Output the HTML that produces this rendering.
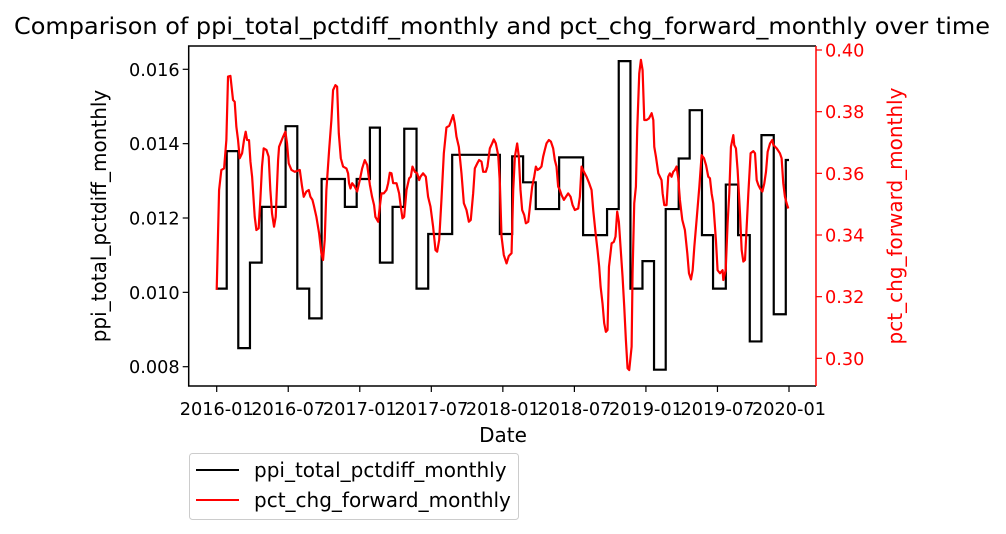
<!DOCTYPE html>
<html><head><meta charset="utf-8"><style>
body{margin:0;background:#fff;}
svg{display:block;font-family:"DejaVu Sans","Liberation Sans",sans-serif;}
</style></head><body>
<svg id="chart" width="1006" height="534" viewBox="0 0 1006 534">
<text x="502" y="34" text-anchor="middle" font-size="23.5" textLength="976" lengthAdjust="spacingAndGlyphs">Comparison of ppi_total_pctdiff_monthly and pct_chg_forward_monthly over time</text>
<g id="plot"></g>
<text x="503" y="442" text-anchor="middle" font-size="20">Date</text>
<text transform="translate(106,216) rotate(-90)" text-anchor="middle" font-size="20">ppi_total_pctdiff_monthly</text>
<text transform="translate(902,216) rotate(-90)" text-anchor="middle" font-size="20" fill="#ff0000">pct_chg_forward_monthly</text>
<g>
<rect x="189.5" y="453.5" width="329" height="66" rx="3" fill="#fff" stroke="#ccc"/>
<line x1="196" y1="470" x2="239" y2="470" stroke="#000" stroke-width="2"/>
<text x="254" y="477" font-size="20">ppi_total_pctdiff_monthly</text>
<line x1="196" y1="500" x2="239" y2="500" stroke="#ff0000" stroke-width="2"/>
<text x="254" y="507" font-size="20">pct_chg_forward_monthly</text>
</g>
</svg>
<script>
const xTickLabels = ["2016-01","2016-07","2017-01","2017-07","2018-01","2018-07","2019-01","2019-07","2020-01"];
const xTickMonths = [0,6,12,18,24,30,36,42,48];
const leftTicks = [0.008,0.010,0.012,0.014,0.016];
const rightTicks = [0.30,0.32,0.34,0.36,0.38,0.40];
const ppiMonths = [0,0.84,1.81,2.79,3.77,5.78,6.76,7.76,8.80,10.75,11.74,12.85,13.69,14.75,15.73,16.76,17.74,19.75,23.75,24.78,25.70,26.76,28.72,30.73,32.74,33.72,34.70,35.71,36.68,37.66,38.75,39.67,40.70,41.63,42.70,43.73,44.71,45.69,46.72,47.73];
const ppiValues = [0.0101,0.0138,0.0085,0.0108,0.0123,0.01447,0.0101,0.0093,0.01305,0.0123,0.01305,0.01443,0.0108,0.0123,0.0144,0.0101,0.01157,0.0137,0.01157,0.01366,0.01296,0.01224,0.01363,0.01154,0.01224,0.01622,0.0101,0.01084,0.00792,0.01224,0.0136,0.0149,0.01154,0.0101,0.0129,0.01154,0.00868,0.01423,0.00941,0.01356];
const ppiEnd = 48;
const pctMonths = [0,0.20,0.39,0.62,0.81,0.95,1.15,1.37,1.51,1.65,
1.79,1.93,2.13,2.29,2.43,2.55,2.71,2.83,2.97,3.19,
3.33,3.52,3.66,3.80,3.94,4.17,4.36,4.50,4.64,4.81,
4.95,5.15,5.23,5.57,5.76,5.90,6.04,6.27,6.55,6.97,
7.16,7.30,7.52,7.72,7.86,8.03,8.14,8.36,8.59,8.78,
8.92,9.06,9.20,9.43,9.62,9.76,9.96,10.10,10.24,10.41,
10.60,10.88,11.02,11.10,11.22,11.36,11.58,11.78,12.00,12.20,
12.42,12.62,12.85,13.03,13.20,13.31,13.54,13.68,13.82,14.01,
14.24,14.38,14.52,14.66,14.80,15.08,15.30,15.44,15.58,15.72,
15.92,16.14,16.28,16.42,16.62,16.81,16.98,17.09,17.31,17.54,
17.73,17.93,18.15,18.35,18.49,18.66,18.85,19.05,19.27,19.50,
19.64,19.83,19.97,20.11,20.31,20.53,20.73,20.95,21.15,21.31,
21.51,21.65,21.85,22.01,22.21,22.35,22.57,22.71,22.91,23.10,
23.24,23.41,23.61,
23.75,23.89,24.08,24.31,24.50,24.73,24.87,25.01,25.20,25.34,
25.48,25.62,25.79,25.93,26.13,26.27,26.46,26.63,26.77,26.91,
27.10,27.24,27.38,27.52,27.66,27.86,28.03,28.22,28.36,28.50,
28.64,28.78,28.92,29.12,29.29,29.48,29.68,29.85,30.04,30.32,
30.46,30.60,30.80,31.02,31.24,31.44,31.58,31.78,31.94,32.08,
32.20,32.36,32.50,32.64,32.78,32.90,33.03,33.12,33.31,33.45,
33.59,33.73,33.87,34.04,34.18,34.32,34.46,34.60,34.80,34.88,
35.02,35.16,35.27,35.44,35.58,35.72,35.86,36.06,36.25,36.48,
36.62,36.70,36.84,37.04,37.31,37.40,37.54,37.73,37.87,38.01,
38.15,38.29,38.43,38.57,38.71,38.85,39.05,39.27,39.47,39.61,
39.78,39.92,40.06,40.25,40.48,40.67,40.87,41.04,41.23,41.37,
41.51,41.65,41.87,42.01,42.21,42.43,42.49,42.69,42.85,42.99,
43.13,43.33,43.41,43.55,43.69,43.89,44.03,44.17,44.31,44.45,
44.59,44.78,45.01,45.15,45.29,45.43,45.57,45.77,45.93,46.07,
46.21,46.41,46.60,46.69,46.97,47.24,47.38,47.52,47.66,47.80,
47.94];
const pctValues = [.3222,.3546,.3611,.3616,.3708,.3914,.3916,.3838,.3832,.3751,
.3708,.3649,.3665,.3708,.3735,.3708,.3708,.3638,.3589,.3459,
.3416,.3422,.3514,.3622,.3681,.3676,.3654,.3546,.3470,.3427,
.3459,.3643,.3686,.3719,.3735,.3697,.3632,.3611,.3605,.3611,
.3557,.3524,.3541,.3546,.3524,.3514,.3497,.3459,.3405,.3341,
.3319,.3384,.3546,.3676,.3773,.3870,.3886,.3881,.3730,.3649,
.3622,.3616,.3600,.3568,.3551,.3568,.3557,.3541,.3578,.3616,
.3643,.3627,.3562,.3524,.3497,.3459,.3443,.3492,.3535,.3535,
.3546,.3568,.3602,.3600,.3568,.3568,.3535,.3492,.3454,.3459,
.3546,.3584,.3589,.3622,.3605,.3600,.3578,.3589,.3600,.3589,
.3524,.3492,.3427,.3351,.3346,.3384,.3514,.3665,.3749,.3754,
.3768,.3789,.3762,.3719,.3686,.3600,.3503,.3481,.3443,.3449,
.3535,.3616,.3632,.3643,.3638,.3605,.3605,.3622,.3681,.3697,
.3710,.3697,.3659,
.3568,.3395,.3335,.3308,.3332,.3341,.3546,.3654,.3697,.3654,
.3546,.3481,.3465,.3438,.3443,.3492,.3557,.3589,.3622,.3611,
.3616,.3622,.3654,.3676,.3697,.3708,.3703,.3681,.3643,.3622,
.3557,.3546,.3530,.3514,.3524,.3535,.3524,.3497,.3481,.3486,
.3524,.3622,.3605,.3589,.3568,.3546,.3481,.3405,.3351,.3297,
.3232,.3178,.3114,.3086,.3092,.3297,.3341,.3373,.3378,.3395,
.3476,.3443,.3362,.3265,.3168,.3059,.2968,.2962,.3038,.3276,
.3503,.3557,.3741,.3924,.3968,.3935,.3773,.3773,.3778,.3795,
.3773,.3686,.3654,.3600,.3578,.3535,.3497,.3497,.3589,.3600,
.3589,.3605,.3611,.3622,.3584,.3514,.3449,.3416,.3341,.3276,
.3256,.3286,.3362,.3449,.3557,.3659,.3649,.3627,.3589,.3584,
.3535,.3503,.3384,.3286,.3276,.3286,.3254,.3286,.3438,.3535,
.3686,.3724,.3692,.3681,.3611,.3470,.3351,.3314,.3319,.3427,
.3535,.3665,.3672,.3665,.3578,.3562,.3551,.3541,.3568,.3605,
.3670,.3697,.3708,.3692,.3681,.3665,.3649,.3568,.3524,.3503,
.3486];

const NS = "http://www.w3.org/2000/svg";
const L = 188.7, R = 816, T = 46, B = 386;
function xS(m){ return 216.7 + m * (789 - 216.7) / 48; }
function yL(v){ return 69.3 + (0.016 - v) / 0.002 * 74.35; }
function yR(v){ return 50 + (0.40 - v) / 0.02 * 61.67; }
const plot = document.getElementById('plot');
function mk(tag, attrs, parent){
  const e = document.createElementNS(NS, tag);
  for (const k in attrs) e.setAttribute(k, attrs[k]);
  (parent || plot).appendChild(e);
  return e;
}
let d = "";
for (let i = 0; i < ppiValues.length; i++) {
  const x0 = xS(ppiMonths[i]);
  const x1 = xS(i + 1 < ppiMonths.length ? ppiMonths[i + 1] : ppiEnd);
  const y = yL(ppiValues[i]);
  d += (i === 0 ? "M" : "L") + x0.toFixed(2) + "," + y.toFixed(2) + "L" + x1.toFixed(2) + "," + y.toFixed(2);
}
const ppiPath = mk('path', {d: d, fill: 'none', stroke: '#000', 'stroke-width': 2.2});


let d2 = "";
for (let i = 0; i < pctValues.length; i++) {
  d2 += (i === 0 ? "M" : "L") + xS(pctMonths[i]).toFixed(2) + "," + yR(pctValues[i]).toFixed(2);
}
const pctPath = mk('path', {d: d2, fill: 'none', stroke: '#ff0000', 'stroke-width': 2.2, 'stroke-linejoin': 'round'});


const sp1 = mk('path', {d: `M${R},${T}L${L},${T}L${L},${B}L${R},${B}`, fill: 'none', stroke: '#000', 'stroke-width': 1.5});


const sp2 = mk('line', {x1: R, y1: T, x2: R, y2: B, stroke: '#ff0000', 'stroke-width': 1.5});


for (let i = 0; i < xTickMonths.length; i++) {
  const x = xS(xTickMonths[i]);
  const tk = mk('line', {x1: x, y1: B, x2: x, y2: B + 6, stroke: '#000', 'stroke-width': 1.2});
  
  
  const t = mk('text', {x: x, y: B + 29, 'text-anchor': 'middle', 'font-size': 17.7});
  t.textContent = xTickLabels[i];
  
  
}
for (const v of leftTicks) {
  const y = yL(v);
  const tk = mk('line', {x1: L - 6, y1: y, x2: L, y2: y, stroke: '#000', 'stroke-width': 1.2});
  
  
  const t = mk('text', {x: L - 9, y: y + 6.5, 'text-anchor': 'end', 'font-size': 17.7});
  t.textContent = v.toFixed(3);
  
  
}
for (const v of rightTicks) {
  const y = yR(v);
  const tk = mk('line', {x1: R, y1: y, x2: R + 6, y2: y, stroke: '#ff0000', 'stroke-width': 1.2});
  
  
  const t = mk('text', {x: R + 9, y: y + 6.5, 'text-anchor': 'start', 'font-size': 17.7, fill: '#ff0000'});
  t.textContent = v.toFixed(2);
  
  
}
</script>
</body></html>
